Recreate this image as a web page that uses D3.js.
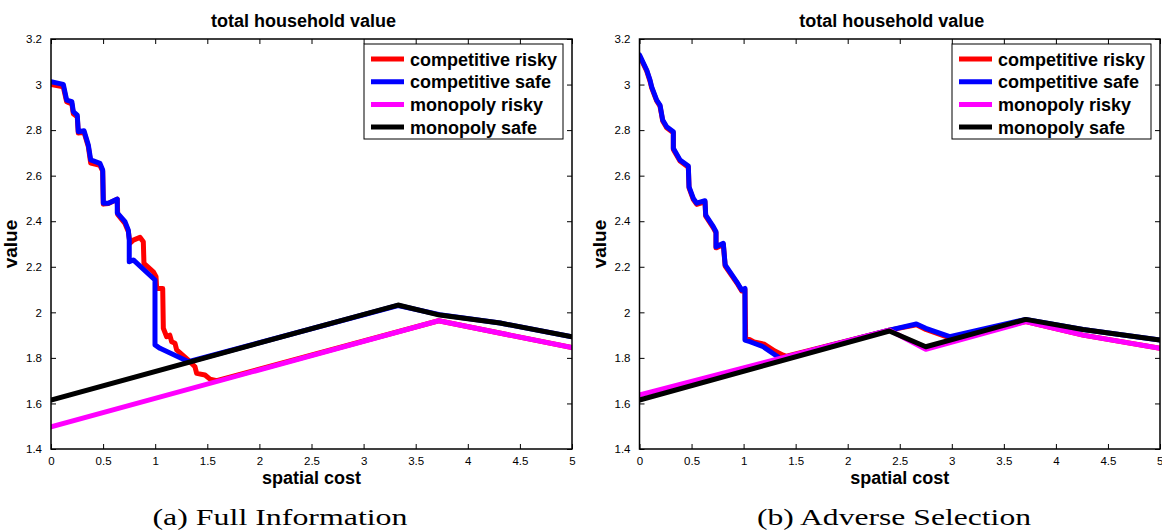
<!DOCTYPE html>
<html>
<head>
<meta charset="utf-8">
<script src="https://cdn.jsdelivr.net/npm/d3@7"></script>
<style>
  body { margin: 0; background: #fff; }
  svg { display: block; font-family: "Liberation Sans", Arial, sans-serif; }
</style>
</head>
<body>
<div id="chart"></div>
<script>
// ---- data ----
const seriesNames = ["competitive risky", "competitive safe", "monopoly risky", "monopoly safe"];
const seriesColors = ["#ff0000", "#0000ff", "#ff00ff", "#000000"];
const xTicks = [0, 0.5, 1, 1.5, 2, 2.5, 3, 3.5, 4, 4.5, 5];
const yTicks = [1.4, 1.6, 1.8, 2, 2.2, 2.4, 2.6, 2.8, 3, 3.2];
const captions = ["(a) Full Information", "(b) Adverse Selection"];

// (a) full information
const fullCompRisky = [[0,3.0],[0.118,2.99],[0.15,2.925],[0.2,2.915],[0.214,2.872],[0.252,2.858],[0.262,2.787],
  [0.317,2.79],[0.358,2.728],[0.381,2.655],[0.47,2.645],[0.496,2.62],[0.502,2.475],[0.55,2.478],[0.636,2.497],
  [0.64,2.43],[0.71,2.39],[0.742,2.355],[0.758,2.303],[0.79,2.317],[0.854,2.329],[0.886,2.31],[0.892,2.215],
  [0.982,2.178],[1.008,2.156],[1.014,2.105],[1.072,2.105],[1.078,1.93],[1.11,1.893],[1.14,1.9],[1.158,1.871],
  [1.19,1.864],[1.206,1.835],[1.318,1.79],[1.382,1.761],[1.398,1.732],[1.478,1.725],[1.526,1.707],[1.59,1.70],
  [3.72,1.963],[5,1.845]];
const fullCompSafe = [[0,3.012],[0.118,3.001],[0.15,2.932],[0.2,2.925],[0.214,2.881],[0.252,2.866],[0.262,2.793],
  [0.317,2.797],[0.358,2.735],[0.381,2.669],[0.47,2.654],[0.496,2.625],[0.502,2.479],[0.55,2.479],[0.636,2.497],
  [0.636,2.437],[0.71,2.398],[0.742,2.361],[0.751,2.317],[0.751,2.222],[0.79,2.23],[0.998,2.142],[0.998,1.857],
  [1.046,1.842],[1.27,1.794],[1.318,1.783],[3.33,2.03],[3.73,1.99],[4.31,1.953],[5,1.893]];
const fullMonoRisky = [[0,1.497],[3.72,1.963],[5,1.845]];
const fullMonoSafe = [[0,1.615],[3.33,2.032],[3.73,1.988],[4.31,1.953],[5,1.893]];

// (b) adverse selection
const advCompRisky = [[0,3.125],[0.069,3.06],[0.101,3.015],[0.117,2.985],[0.165,2.928],[0.197,2.905],[0.223,2.84],
  [0.261,2.81],[0.325,2.788],[0.325,2.715],[0.389,2.664],[0.469,2.637],[0.476,2.546],[0.517,2.495],[0.55,2.474],
  [0.629,2.485],[0.636,2.422],[0.709,2.371],[0.735,2.349],[0.735,2.283],[0.805,2.298],[0.823,2.203],[0.934,2.13],
  [0.982,2.094],[1.013,2.1],[1.02,1.885],[1.06,1.88],[1.1,1.87],[1.2,1.86],[1.3,1.83],[1.38,1.812],[1.414,1.807],
  [2.4,1.922],[2.66,1.945],[2.75,1.925],[2.98,1.888],[3.71,1.959],[4.26,1.9],[5,1.842]];
const advCompSafe = [[0,3.13],[0.069,3.064],[0.101,3.02],[0.117,2.99],[0.165,2.932],[0.197,2.91],[0.223,2.844],
  [0.261,2.815],[0.325,2.793],[0.325,2.72],[0.389,2.669],[0.469,2.642],[0.476,2.551],[0.517,2.5],[0.55,2.479],
  [0.629,2.49],[0.636,2.427],[0.709,2.376],[0.735,2.354],[0.735,2.288],[0.805,2.303],[0.823,2.208],[0.934,2.134],
  [0.982,2.098],[1.013,2.105],[1.013,1.878],[1.061,1.871],[1.189,1.849],[1.318,1.808],[1.35,1.797],
  [2.4,1.922],[2.66,1.949],[2.75,1.93],[2.98,1.893],[3.71,1.969],[4.26,1.925],[5,1.878]];
const advMonoRisky = [[0,1.637],[2.4,1.922],[2.75,1.838],[3.71,1.959],[4.26,1.9],[5,1.842]];
const advMonoSafe = [[0,1.615],[2.4,1.918],[2.75,1.849],[3.71,1.969],[4.26,1.925],[5,1.878]];

const panels = [
  {left: 51, right: 572, capX: 280, capW: 255, series: [fullCompRisky, fullCompSafe, fullMonoRisky, fullMonoSafe], caption: captions[0]},
  {left: 639.5, right: 1160, capX: 894, capW: 274, series: [advCompRisky, advCompSafe, advMonoRisky, advMonoSafe], caption: captions[1]}
];

const W = 1162, H = 531, plotTop = 39, plotBottom = 449;
const svg = d3.select("#chart").append("svg").attr("width", W).attr("height", H);

panels.forEach((p, pi) => {
  const x = d3.scaleLinear().domain([0, 5]).range([p.left, p.right]);
  const y = d3.scaleLinear().domain([1.4, 3.2]).range([plotBottom, plotTop]);
  const g = svg.append("g");
  const cx = (p.left + p.right) / 2;

  g.append("clipPath").attr("id", "clip" + pi)
    .append("rect").attr("x", p.left).attr("y", plotTop).attr("width", p.right - p.left).attr("height", plotBottom - plotTop);

  // ticks, pointing inward on all four sides
  const fmt = d => String(+d.toFixed(1));
  const xb = g.append("g").attr("transform", `translate(0,${plotBottom})`)
    .call(d3.axisBottom(x).tickValues(xTicks).tickSizeInner(-5).tickSizeOuter(0).tickPadding(8).tickFormat(fmt));
  g.append("g").attr("transform", `translate(0,${plotTop})`)
    .call(d3.axisTop(x).tickValues(xTicks).tickSizeInner(-5).tickSizeOuter(0).tickFormat(""));
  g.append("g").attr("transform", `translate(${p.left},0)`)
    .call(d3.axisLeft(y).tickValues(yTicks).tickSizeInner(-5).tickSizeOuter(0).tickPadding(9).tickFormat(fmt));
  g.append("g").attr("transform", `translate(${p.right},0)`)
    .call(d3.axisRight(y).tickValues(yTicks).tickSizeInner(-5).tickSizeOuter(0).tickFormat(""));
  g.selectAll(".domain").remove();
  g.selectAll(".tick line").attr("stroke", "#000").attr("stroke-width", 1);
  g.selectAll(".tick text").attr("font-size", 11.5).attr("fill", "#000")
    .attr("font-family", "Liberation Sans, Arial, sans-serif");
  // keep the last label inside the page at the right edge
  if (p.right > W - 8) xb.selectAll(".tick text").filter(d => d === 5).attr("text-anchor", "end").attr("dx", 3);

  // lines
  const line = d3.line().x(d => x(d[0])).y(d => y(d[1]));
  const lines = g.append("g").attr("clip-path", `url(#clip${pi})`);
  p.series.forEach((s, i) => {
    lines.append("path").datum(s).attr("d", line)
      .attr("fill", "none").attr("stroke", seriesColors[i])
      .attr("stroke-width", 5).attr("stroke-linejoin", "round").attr("stroke-linecap", "round");
  });

  // frame
  g.append("rect").attr("x", p.left).attr("y", plotTop).attr("width", p.right - p.left).attr("height", plotBottom - plotTop)
    .attr("fill", "none").attr("stroke", "#000").attr("stroke-width", 1.5);

  // texts
  g.append("text").attr("x", cx - 8).attr("y", 27).attr("text-anchor", "middle")
    .attr("font-weight", "bold").attr("font-size", 18).text("total household value");
  g.append("text").attr("x", cx).attr("y", 484).attr("text-anchor", "middle")
    .attr("font-weight", "bold").attr("font-size", 18).text("spatial cost");
  g.append("text").attr("transform", `translate(${p.left - 34},${(plotTop + plotBottom) / 2}) rotate(-90)`)
    .attr("text-anchor", "middle").attr("font-weight", "bold").attr("font-size", 19).text("value");
  g.append("text").attr("x", p.capX).attr("y", 525).attr("text-anchor", "middle")
    .attr("font-family", "Liberation Serif, serif").attr("font-size", 24)
    .attr("textLength", p.capW).attr("lengthAdjust", "spacingAndGlyphs").text(p.caption);

  // legend
  const lx = p.right - 208, ly = 44;
  const lg = g.append("g").attr("transform", `translate(${lx},${ly})`);
  lg.append("rect").attr("width", 199).attr("height", 95).attr("fill", "#fff")
    .attr("stroke", "#000").attr("stroke-width", 1);
  seriesNames.forEach((n, i) => {
    const ry = 15 + i * 22.7;
    lg.append("line").attr("x1", 7).attr("x2", 40).attr("y1", ry).attr("y2", ry)
      .attr("stroke", seriesColors[i]).attr("stroke-width", 5);
    lg.append("text").attr("x", 46).attr("y", ry + 6.5).attr("font-weight", "bold").attr("font-size", 18).text(n);
  });
});
</script>
</body>
</html>
